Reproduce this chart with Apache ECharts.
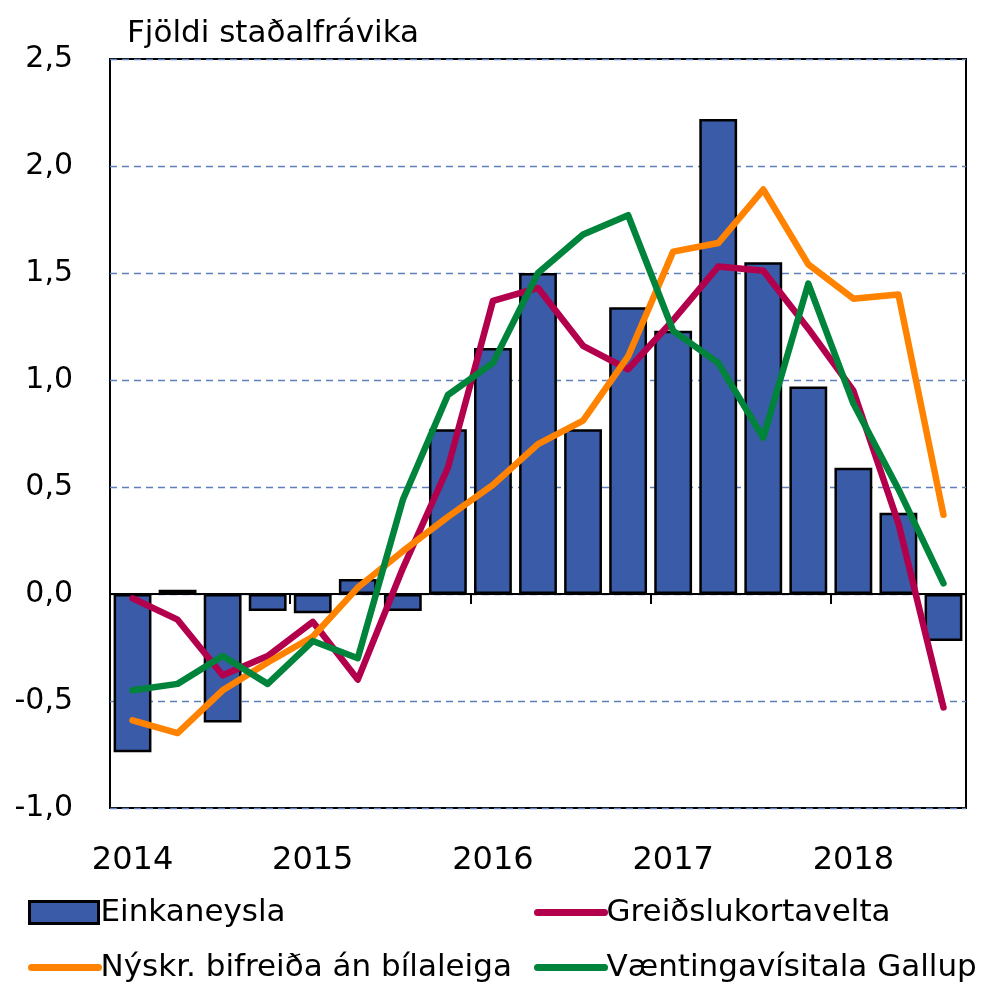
<!DOCTYPE html>
<html>
<head>
<meta charset="utf-8">
<script src="https://cdn.jsdelivr.net/npm/echarts@6/dist/echarts.min.js"></script>
<style>
html,body{margin:0;padding:0;background:#fff;}
#chart{width:987px;height:985px;}
</style>
</head>
<body>
<div id="chart"></div>
<script>
// Quarters 2014Q1 .. 2018Q3
var quarters = ["2014 Q1","2014 Q2","2014 Q3","2014 Q4","2015 Q1","2015 Q2","2015 Q3","2015 Q4",
  "2016 Q1","2016 Q2","2016 Q3","2016 Q4","2017 Q1","2017 Q2","2017 Q3","2017 Q4",
  "2018 Q1","2018 Q2","2018 Q3"];
var einkaneysla = [-0.74, 0.02, -0.60, -0.08, -0.09, 0.07, -0.08, 0.77, 1.15, 1.50, 0.77, 1.34, 1.23, 2.22, 1.55, 0.97, 0.59, 0.38, -0.22];
var greidslukort = [-0.02, -0.12, -0.38, -0.29, -0.13, -0.40, 0.12, 0.59, 1.37, 1.43, 1.16, 1.05, 1.28, 1.53, 1.51, 1.24, 0.95, 0.33, -0.53];
var nyskraning = [-0.59, -0.65, -0.45, -0.32, -0.20, 0.03, 0.20, 0.36, 0.51, 0.70, 0.81, 1.11, 1.60, 1.64, 1.89, 1.54, 1.38, 1.40, 0.37];
var vaentinga = [-0.45, -0.42, -0.29, -0.42, -0.22, -0.30, 0.44, 0.93, 1.08, 1.50, 1.68, 1.77, 1.23, 1.08, 0.73, 1.45, 0.89, 0.49, 0.05];
var yTicks = [-1.0, -0.5, 0.0, 0.5, 1.0, 1.5, 2.0, 2.5];
var yTickLabels = ["-1,0", "-0,5", "0,0", "0,5", "1,0", "1,5", "2,0", "2,5"];
var names = ["Einkaneysla", "Greiðslukortavelta", "Nýskr. bifreiða án bílaleiga", "Væntingavísitala Gallup"];
var titleText = "Fjöldi staðalfrávika";

var FONT = '"DejaVu Sans", "Liberation Sans", sans-serif';
var colors = {bar: '#3A5BA8', crimson: '#B3004C', orange: '#FF8300', green: '#00843C'};

var chart = echarts.init(document.getElementById('chart'), null, {renderer: 'canvas'});

function legendFor(name, left, top, isBar) {
  var l = {
    data: [name], left: left, top: top, padding: 0, orient: 'horizontal',
    itemWidth: isBar ? 69 : 67, itemHeight: isBar ? 22 : 8,
    textStyle: {fontFamily: FONT, fontSize: 31, color: '#000', padding: [0, 0, 0, -3]},
    selectedMode: false
  };
  if (isBar) {
    l.icon = 'rect';
    l.itemStyle = {borderWidth: 3, borderColor: '#000'};
  } else {
    l.itemStyle = {opacity: 0};
    l.lineStyle = {width: 7, cap: 'round'};
  }
  return l;
}

var option = {
  animation: false,
  backgroundColor: '#fff',
  title: {
    text: titleText, left: 127, top: 18, padding: 0,
    textStyle: {fontFamily: FONT, fontSize: 31, fontWeight: 'normal', color: '#000'}
  },
  grid: {
    left: 110, right: 21, top: 59, bottom: 177,
    show: true, borderColor: '#000', borderWidth: 2, backgroundColor: 'transparent'
  },
  legend: [
    legendFor(names[0], 28, 897, true),
    legendFor(names[1], 534, 897, false),
    legendFor(names[2], 28, 952, false),
    legendFor(names[3], 534, 952, false)
  ],
  xAxis: [
    {
      type: 'category', data: quarters, position: 'bottom', boundaryGap: true,
      axisLine: {show: false, onZero: false},
      axisTick: {show: false},
      splitLine: {show: false},
      axisLabel: {
        interval: 3, margin: 37, color: '#000', fontFamily: FONT, fontSize: 32,
        formatter: function (v) { return v.split(' ')[0]; }
      }
    },
    {
      type: 'category', data: quarters, position: 'bottom', boundaryGap: true,
      axisLine: {show: true, onZero: true, lineStyle: {color: '#000', width: 2}},
      axisTick: {show: true, interval: 3, length: 10, lineStyle: {color: '#000', width: 2}},
      axisLabel: {show: false},
      splitLine: {show: false}
    }
  ],
  yAxis: {
    type: 'value', min: -1, max: 2.5, interval: 0.5,
    axisLine: {show: false}, axisTick: {show: false},
    splitLine: {show: true, lineStyle: {color: '#5E7FB8', width: 1.3, type: [7, 5]}},
    axisLabel: {
      margin: 37, color: '#000', fontFamily: FONT, fontSize: 30,
      formatter: function (v) {
        for (var i = 0; i < yTicks.length; i++) {
          if (Math.abs(yTicks[i] - v) < 1e-9) return yTickLabels[i];
        }
        return '';
      }
    }
  },
  series: [
    {
      name: names[0], type: 'bar', data: einkaneysla, xAxisIndex: 0,
      barCategoryGap: '16%',
      itemStyle: {color: colors.bar, borderColor: '#000', borderWidth: 2.5}
    },
    {
      name: names[1], type: 'line', data: greidslukort, xAxisIndex: 0,
      symbol: 'none', z: 3,
      lineStyle: {color: colors.crimson, width: 6.5, cap: 'round', join: 'round'},
      itemStyle: {color: colors.crimson}
    },
    {
      name: names[2], type: 'line', data: nyskraning, xAxisIndex: 0,
      symbol: 'none', z: 3,
      lineStyle: {color: colors.orange, width: 6.5, cap: 'round', join: 'round'},
      itemStyle: {color: colors.orange}
    },
    {
      name: names[3], type: 'line', data: vaentinga, xAxisIndex: 0,
      symbol: 'none', z: 3,
      lineStyle: {color: colors.green, width: 6.5, cap: 'round', join: 'round'},
      itemStyle: {color: colors.green}
    }
  ]
};
chart.setOption(option);
</script>
</body>
</html>
